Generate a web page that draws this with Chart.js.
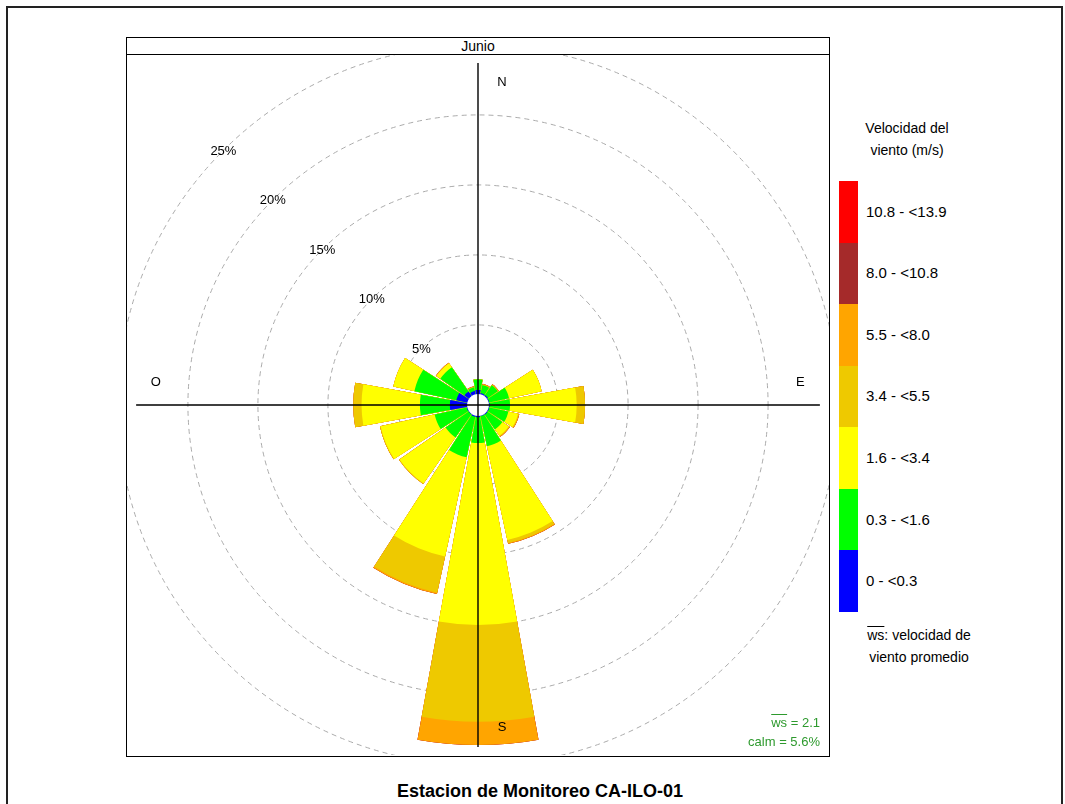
<!DOCTYPE html>
<html>
<head>
<meta charset="utf-8">
<script src="https://cdn.jsdelivr.net/npm/chart.js@4.4.1/dist/chart.umd.min.js"></script>
<style>
html,body{margin:0;padding:0;background:#fff;}
body{width:1065px;height:804px;position:relative;overflow:hidden;font-family:"Liberation Sans",Arial,Helvetica,sans-serif;color:#000;}
#frame{position:absolute;left:6px;top:6px;width:1057px;height:900px;border:2px solid #222;box-sizing:border-box;}
#panel{position:absolute;left:126px;top:37px;width:704px;height:720px;border:1px solid #000;box-sizing:border-box;}
#strip{position:absolute;left:127px;top:38px;width:702px;height:16px;border-bottom:1px solid #000;text-align:center;font-size:14px;line-height:16px;}
#wrap{position:absolute;left:127px;top:55px;width:702px;height:700px;}
#legTitle{position:absolute;left:847px;top:117px;width:120px;text-align:center;font-size:14px;line-height:22px;}
#legBar{position:absolute;left:839px;top:181px;width:19px;}
#legBar div{width:19px;}
.legLab{position:absolute;left:866px;font-size:15px;line-height:20px;white-space:nowrap;}
#legNote{position:absolute;left:852px;top:624px;width:134px;text-align:center;font-size:14px;line-height:22px;}
#stats{position:absolute;left:680px;top:713px;width:140px;text-align:right;font-size:13px;line-height:19px;color:#2e9a2e;}
.ov{text-decoration:overline;}
#title{position:absolute;left:0;top:779px;width:1080px;text-align:center;font-size:18px;font-weight:bold;line-height:24px;}
</style>
</head>
<body>
<div id="frame"></div>
<div id="panel"></div>
<div id="strip">Junio</div>
<div id="wrap"><canvas id="c" width="702" height="700"></canvas></div>
<div id="legTitle">Velocidad del<br>viento (m/s)</div>
<div id="legBar"></div>
<div id="legLabels"></div>
<div id="legNote"><span class="ov">ws</span>: velocidad de<br>viento promedio</div>
<div id="stats"><span class="ov">ws</span> = 2.1<br>calm = 5.6%</div>
<div id="title">Estacion de Monitoreo CA-ILO-01</div>
<script>
// ---- data (percent frequency per direction, per speed bin) ----
const DIRECTIONS = ['N','NNE','NE','ENE','E','ESE','SE','SSE','S','SSW','SW','WSW','W','WNW','NW','NNW'];
const SPEED_BINS = ['0 - <0.3','0.3 - <1.6','1.6 - <3.4','3.4 - <5.5','5.5 - <8.0','8.0 - <10.8','10.8 - <13.9'];
const SPEED_COLORS = ['#0000FF','#00FF00','#FFFF00','#EEC900','#FFA500','#A52A2A','#FF0000'];
const f_0_03    = [0.36,0.15,0.15,0.10,0.12,0.10,0.12,0.10,0.15,0.15,0.10,0.10,1.29,0.86,0.46,0.30];
const f_03_16   = [0.76,0.60,0.85,1.45,1.45,1.40,1.28,2.20,1.85,2.95,2.00,2.35,2.14,3.07,2.10,0.27];
const f_16_34   = [0.00,0.00,0.00,2.38,4.76,0.70,0.55,6.84,13.00,7.26,4.00,3.95,4.17,1.54,0.34,0.00];
const f_34_55   = [0.00,0.00,0.00,0.00,0.60,0.05,0.05,0.22,6.90,2.64,0.05,0.05,0.59,0.00,0.00,0.00];
const f_55_80   = [0.00,0.08,0.08,0.00,0.00,0.05,0.05,0.07,1.67,0.10,0.00,0.00,0.00,0.00,0.05,0.08];
const f_80_108  = [0,0,0,0,0,0,0,0,0,0,0,0,0,0,0,0];
const f_108_139 = [0,0,0,0,0,0,0,0,0,0,0,0,0,0,0,0];
const BINS = [f_0_03,f_03_16,f_16_34,f_34_55,f_55_80,f_80_108,f_108_139];
const RING_TICKS = [5,10,15,20,25];
const WS_MEAN = 2.1, CALM = 5.6;

// ---- geometry settings ----
const WEDGE_DEG = 20.5, GAP_DEG = 22.5 - 20.5;
const R_MIN = -0.72, R_MAX = 24.28;   // 14 px per percent, hole ~10px
const AXIS_EXTENT = 23.7, COMPASS_AT = 22.3, LABEL_ANGLE = 315;

// ---- build polar datasets (cumulative stacks) ----
const labels = [];
DIRECTIONS.forEach(d => { labels.push(d); labels.push(''); });
const datasets = BINS.map((bin, k) => {
  const data = [];
  DIRECTIONS.forEach((d, i) => {
    let cum = 0;
    for (let j = 0; j <= k; j++) cum += BINS[j][i];
    data.push(cum, 0);
  });
  return {
    label: SPEED_BINS[k],
    data,
    order: k,
    borderWidth: 0,
    backgroundColor: c => (c.dataIndex % 2 ? 'rgba(0,0,0,0)' : SPEED_COLORS[k]),
    angle: c => (c.dataIndex % 2 ? GAP_DEG : WEDGE_DEG)
  };
});

const FONT = '"Liberation Sans", Arial, sans-serif';
const rosePlugin = {
  id: 'rose',
  afterDatasetsDraw(chart) {
    const s = chart.scales.r, ctx = chart.ctx;
    const cx = s.xCenter, cy = s.yCenter;
    ctx.save();
    ctx.fillStyle = '#fff';
    ctx.beginPath();
    ctx.arc(cx, cy, s.getDistanceFromCenterForValue(0) + 0.8, 0, Math.PI * 2);
    ctx.fill();
    const R = s.getDistanceFromCenterForValue(AXIS_EXTENT);
    ctx.strokeStyle = '#000';
    ctx.lineWidth = 1.4;
    ctx.beginPath();
    ctx.moveTo(cx - R, cy); ctx.lineTo(cx + R, cy);
    ctx.moveTo(cx, cy - R); ctx.lineTo(cx, cy + R);
    ctx.stroke();
    ctx.fillStyle = '#000';
    ctx.font = '13px ' + FONT;
    ctx.textAlign = 'center';
    ctx.textBaseline = 'middle';
    const a = LABEL_ANGLE * Math.PI / 180;
    RING_TICKS.forEach(v => {
      const r = s.getDistanceFromCenterForValue(v);
      ctx.fillText(v + '%', cx + r * Math.sin(a), cy + 1 - r * Math.cos(a));
    });
    const rl = s.getDistanceFromCenterForValue(COMPASS_AT);
    ctx.fillText('N', cx + 24, cy - rl);
    ctx.fillText('S', cx + 24, cy + rl);
    ctx.fillText('E', cx + rl, cy - 23);
    ctx.fillText('O', cx - rl, cy - 23);
    ctx.restore();
  }
};

new Chart(document.getElementById('c'), {
  type: 'polarArea',
  data: { labels, datasets },
  options: {
    responsive: false,
    animation: false,
    events: [],
    startAngle: -WEDGE_DEG / 2,
    layout: { padding: 0 },
    plugins: { legend: { display: false }, tooltip: { enabled: false } },
    scales: {
      r: {
        type: 'radialLinear',
        min: R_MIN,
        max: R_MAX,
        startAngle: -WEDGE_DEG / 2,
        ticks: { display: false },
        pointLabels: { display: false },
        angleLines: { display: false },
        grid: { display: true, circular: true, color: '#ababab', lineWidth: 1, borderDash: [5, 4] },
        border: { dash: [5, 4] },
        afterBuildTicks: sc => { sc.ticks = RING_TICKS.map(v => ({ value: v })); }
      }
    }
  },
  plugins: [rosePlugin]
});

// ---- legend (key) ----
const bar = document.getElementById('legBar');
const labBox = document.getElementById('legLabels');
const SEG = 61.57;
for (let k = SPEED_BINS.length - 1, n = 0; k >= 0; k--, n++) {
  const d = document.createElement('div');
  d.style.height = SEG + 'px';
  d.style.background = SPEED_COLORS[k];
  bar.appendChild(d);
  const l = document.createElement('div');
  l.className = 'legLab';
  l.style.top = (181 + SEG * n + SEG / 2 - 10) + 'px';
  l.textContent = SPEED_BINS[k];
  labBox.appendChild(l);
}
</script>
</body>
</html>
